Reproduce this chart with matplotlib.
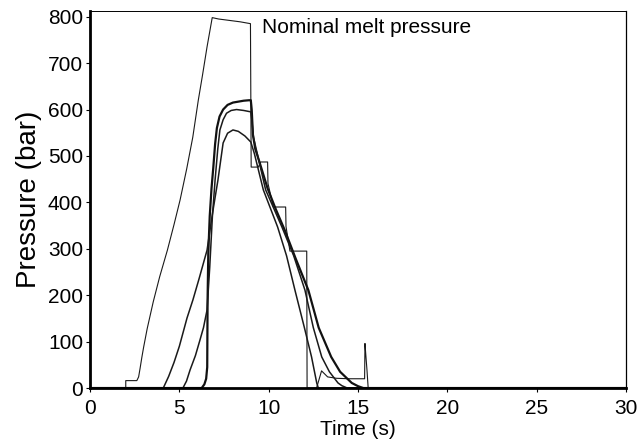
import matplotlib
matplotlib.use('Agg')
import matplotlib.pyplot as plt

plt.rcParams['font.family'] = ['Liberation Sans', 'DejaVu Sans']

# nominal melt pressure (thin line with holding steps)
t_nom = [0, 2.0, 2.0, 2.62, 2.72, 2.8, 2.9, 3.0, 3.2, 3.54, 3.9, 4.33, 4.7, 5.04, 5.41,
         5.75, 6.06, 6.3, 6.55, 6.84, 7.2, 7.8, 8.4, 8.98, 9.02, 9.42, 9.55, 9.94, 9.96,
         10.26, 10.95, 10.97, 11.19, 12.13, 12.15, 12.68, 12.96, 13.3, 13.8, 14.5, 15.37,
         15.39, 15.44, 15.5, 15.57, 16.0, 30]
p_nom = [0, 0, 16, 16, 24, 42, 66, 88, 128, 186, 240, 297, 352, 405, 472,
         540, 620, 675, 735, 798, 795, 792, 789, 785, 476, 476, 487, 487, 441,
         390, 390, 348, 295, 295, 0, 0, 37, 24, 21, 20, 20,
         96, 70, 40, 0, 0, 0]

# cavity pressure A (thick, sharp rise at gate)
t_a = [0, 6.25, 6.4, 6.5, 6.56, 6.58, 6.62, 6.7, 6.8, 6.9, 7.0, 7.1, 7.25, 7.45, 7.7,
       8.0, 8.3, 8.6, 8.9, 9.0, 9.05, 9.12, 9.25, 9.5, 9.94, 10.4, 10.9, 11.5, 12.22,
       12.8, 13.5, 14.0, 14.65, 15.0, 15.3, 30]
p_a = [0, 0, 8, 20, 45, 190, 290, 370, 430, 475, 525, 560, 585, 600, 610,
       615, 617, 619, 620, 620, 600, 545, 515, 485, 430, 385, 340, 280, 211,
       130, 67, 35, 11, 4, 0, 0]

# cavity pressure B
t_b = [0, 5.2, 5.4, 5.6, 5.9, 6.15, 6.35, 6.55, 6.7, 6.85, 7.0, 7.15, 7.27, 7.45, 7.64,
       7.9, 8.2, 8.6, 9.0, 9.05, 9.15, 9.3, 9.83, 10.74, 11.4, 12.03, 12.5, 12.97, 13.4,
       13.88, 14.1, 14.4, 30]
p_b = [0, 0, 15, 39, 70, 103, 130, 168, 260, 370, 448, 515, 556, 578, 592,
       598, 600, 598, 595, 580, 540, 515, 427, 347, 285, 211, 130, 67, 35,
       11, 5, 0, 0]

# cavity pressure C (far from gate, lowest peak)
t_c = [0, 4.1, 4.4, 4.7, 5.0, 5.43, 5.76, 6.1, 6.55, 6.85, 7.16, 7.45, 7.7, 8.0, 8.3,
       8.67, 9.0, 9.2, 9.7, 10.5, 11.0, 11.47, 12.0, 12.4, 12.69, 12.78, 30]
p_c = [0, 0, 25, 55, 90, 151, 190, 235, 297, 375, 448, 528, 549, 556, 553,
       543, 530, 505, 427, 347, 285, 211, 130, 67, 11, 0, 0]

fig = plt.figure(figsize=(6.44, 4.45), dpi=100)
ax = fig.add_axes([0.1398, 0.128, 0.8322, 0.847])

ax.plot(t_nom, p_nom, color='#1a1a1a', lw=0.8)
ax.plot(t_a, p_a, color='#111111', lw=1.6)
ax.plot(t_b, p_b, color='#1a1a1a', lw=1.1)
ax.plot(t_c, p_c, color='#1a1a1a', lw=1.1)

ax.text(9.62, 776, 'Nominal melt pressure', fontsize=15, ha='left', va='center')

ax.set_xlim(0, 30)
ax.set_ylim(0, 812)
ax.set_xticks([0, 5, 10, 15, 20, 25, 30])
ax.set_yticks([0, 100, 200, 300, 400, 500, 600, 700, 800])
ax.tick_params(direction='out', length=3, width=0.8, labelsize=15)
ax.tick_params(axis='x', pad=5)
ax.tick_params(axis='y', pad=2)
ax.set_xlabel('Time (s)', fontsize=15, labelpad=1)
ax.set_ylabel('Pressure (bar)', fontsize=20, labelpad=4)

ax.spines['left'].set_linewidth(2.0)
ax.spines['bottom'].set_linewidth(2.0)
ax.spines['top'].set_linewidth(0.7)
ax.spines['right'].set_linewidth(0.9)

fig.savefig('out.png', dpi=100)
